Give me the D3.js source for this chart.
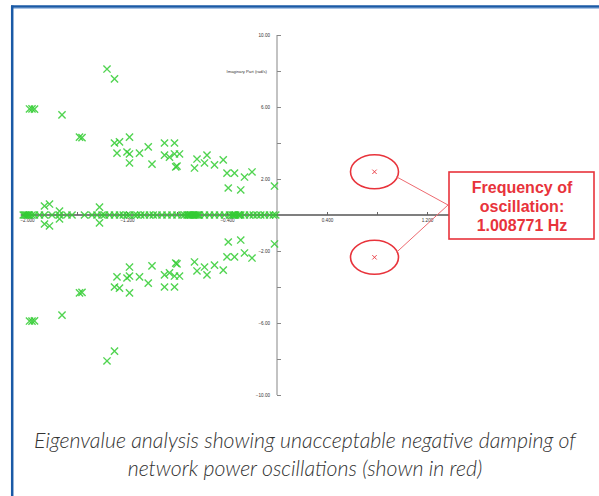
<!DOCTYPE html>
<html>
<head>
<meta charset="utf-8">
<script src="https://cdn.jsdelivr.net/npm/d3@7"></script>
<style>
  body { margin: 0; background: #fff; }
  svg { display: block; }
</style>
</head>
<body>
<svg id="chart" width="599" height="496"></svg>
<script>
// eigenvalues above the real axis (real, imag), the conjugates are drawn too
var upperRe = [-1.98, -1.96, -1.94, -1.72, -1.36, -1.30, -1.58, -1.56, -1.30, -1.26, -1.18, -1.28, -1.20, -1.18, -1.10,
               -1.03, -1.18, -1.00, -0.90, -0.82, -0.90, -0.86, -0.82, -0.78, -0.81, -0.80, -0.66, -0.64, -0.56,
               -0.58, -0.50, -0.43, -0.40, -0.34, -0.26, -0.20, -0.39, -0.29, -0.02, -1.86, -1.82, -1.74, -1.42];
var upperIm = [5.89, 5.90, 5.88, 5.56, 8.11, 7.56, 4.33, 4.30, 4.00, 4.06, 4.33, 3.44, 3.50, 3.39, 3.44,
               3.78, 2.89, 2.83, 4.00, 4.00, 3.33, 3.22, 3.39, 3.39, 2.67, 2.72, 2.61, 3.11, 3.33,
               2.89, 2.78, 3.06, 2.33, 2.33, 2.11, 2.39, 1.50, 1.39, 1.61, 0.50, 0.61, 0.22, 0.44];

// purely real eigenvalues
var realRe = [-2.03, -2.02, -2.01, -2.00, -1.99, -1.98, -1.96, -1.94, -1.90, -1.86, -1.80, -1.74, -1.68, -1.64,
              -1.54, -1.48, -1.44, -1.40, -1.38, -1.34, -1.30, -1.26, -1.23, -1.20, -1.18, -1.14, -1.12,
              -1.09, -1.06, -1.02, -0.99, -0.96, -0.92, -0.88, -0.84, -0.80, -0.76, -0.74, -0.72, -0.71,
              -0.70, -0.69, -0.68, -0.67, -0.66, -0.65, -0.64, -0.63, -0.62, -0.58, -0.54, -0.50, -0.46,
              -0.42, -0.38, -0.36, -0.35, -0.34, -0.33, -0.31, -0.30, -0.29, -0.26, -0.22, -0.19, -0.16,
              -0.13, -0.10, -0.06, -0.03, -0.01];

// unstable pair (shown in red)
var redRe = [0.78, 0.78];
var redIm = [2.40, -2.35];

var xTicks = [-2.0, -1.6, -1.2, -0.8, -0.4, 0.4, 0.8, 1.2];
var xLabelled = [-2.0, -1.2, -0.4, 0.4, 1.2];
var yTicks = [-10, -8, -6, -4, -2, 2, 4, 6, 8, 10];
var yLabelled = [-10, -6, -2, 2, 6, 10];

var yTitle = "Imaginary Part (rad/s)";
var calloutLines = ["Frequency of", "oscillation:", "1.008771 Hz"];
var captionLines = ["Eigenvalue analysis showing unacceptable negative damping of",
                    "network power oscillations (shown in red)"];

var svg = d3.select("#chart");

// frame
svg.append("line").attr("x1", 11).attr("x2", 599).attr("y1", 8.5).attr("y2", 8.5)
   .attr("stroke", "#a9c4e6").attr("stroke-width", 1);
svg.append("line").attr("x1", 11).attr("x2", 599).attr("y1", 6.5).attr("y2", 6.5)
   .attr("stroke", "#1a5aa6").attr("stroke-width", 2.5);
svg.append("line").attr("x1", 12.2).attr("x2", 12.2).attr("y1", 5.5).attr("y2", 496)
   .attr("stroke", "#1a5aa6").attr("stroke-width", 2.5);

var x = d3.scaleLinear().domain([-2.0, 1.2]).range([27, 427]);
var y = d3.scaleLinear().domain([-10, 10]).range([395, 35]);

var g = svg.append("g");

// y axis (light grey)
g.append("line").attr("x1", x(0)).attr("x2", x(0)).attr("y1", y(10)).attr("y2", y(-10))
  .attr("stroke", "#b4b4b4").attr("stroke-width", 1.6);
var yAxis = g.append("g").attr("transform", "translate(" + x(0) + ",0)")
  .call(d3.axisLeft(y).tickValues(yTicks).tickSize(-4).tickPadding(7)
    .tickFormat(function(d) { return yLabelled.indexOf(d) >= 0 ? d3.format(".2f")(d) : ""; }));
yAxis.select(".domain").remove();
yAxis.selectAll("line").attr("stroke", "#888");
yAxis.selectAll("text").attr("font-family", "Arial, Liberation Sans, sans-serif")
  .attr("font-size", 4.6).attr("fill", "#333");

g.append("text").attr("x", x(0) - 10).attr("y", y(8) + 1.5).attr("text-anchor", "end")
  .attr("font-family", "Arial, Liberation Sans, sans-serif").attr("font-size", 4.2)
  .attr("fill", "#333").text(yTitle);

// x axis
g.append("line").attr("x1", x(-2.05)).attr("x2", x(1.4)).attr("y1", y(0)).attr("y2", y(0))
  .attr("stroke", "#555").attr("stroke-width", 1.3);
var xAxis = g.append("g").attr("transform", "translate(0," + y(0) + ")")
  .call(d3.axisBottom(x).tickValues(xTicks).tickSize(-3).tickPadding(4)
    .tickFormat(function(d) { return xLabelled.indexOf(d) >= 0 ? d3.format(".3f")(d) : ""; }));
xAxis.select(".domain").remove();
xAxis.selectAll("line").attr("stroke", "#666");
xAxis.selectAll("text").attr("font-family", "Arial, Liberation Sans, sans-serif")
  .attr("font-size", 4.6).attr("fill", "#333");

// markers
function cross(sel, s) {
  return sel.attr("d", function(d) {
    var px = x(d[0]), py = y(d[1]);
    return "M" + (px - s) + "," + (py - s) + "L" + (px + s) + "," + (py + s) +
           "M" + (px - s) + "," + (py + s) + "L" + (px + s) + "," + (py - s);
  });
}

var pts = [];
upperRe.forEach(function(r, i) {
  pts.push([r, upperIm[i]]);
  pts.push([r, -upperIm[i]]);
});
realRe.forEach(function(r) { pts.push([r, 0]); });

g.append("g").selectAll("path").data(pts).join("path")
  .call(cross, 3.6)
  .attr("stroke", "#33cc33").attr("stroke-width", 1.4).attr("fill", "none").attr("opacity", 0.85);

// red pair + annotation
var redPts = redRe.map(function(r, i) { return [r, redIm[i]]; });
var ann = g.append("g");
redPts.forEach(function(d) {
  ann.append("ellipse").attr("cx", x(d[0])).attr("cy", y(d[1])).attr("rx", 24).attr("ry", 17)
    .attr("fill", "none").attr("stroke", "#e8333b").attr("stroke-width", 1.6);
  ann.append("line").attr("x1", x(d[0]) + 22).attr("y1", y(d[1]) + (d[1] > 0 ? 5 : -5))
    .attr("x2", 448).attr("y2", 205)
    .attr("stroke", "#ee6a70").attr("stroke-width", 1);
});
ann.append("g").selectAll("path").data(redPts).join("path")
  .call(cross, 2.2)
  .attr("stroke", "#e8333b").attr("stroke-width", 0.9).attr("fill", "none");

ann.append("rect").attr("x", 449).attr("y", 172).attr("width", 145).attr("height", 67)
  .attr("fill", "#fff").attr("stroke", "#e8333b").attr("stroke-width", 1.6);
ann.selectAll("text.call").data(calloutLines).join("text").attr("class", "call")
  .attr("x", 522).attr("y", function(d, i) { return 192.5 + i * 19; })
  .attr("text-anchor", "middle")
  .attr("font-family", "Arial, Liberation Sans, sans-serif").attr("font-weight", "bold")
  .attr("font-size", 16).attr("fill", "#e8333b")
  .text(function(d) { return d; });

// caption
svg.selectAll("text.cap").data(captionLines).join("text").attr("class", "cap")
  .attr("x", 305).attr("y", function(d, i) { return 448 + i * 28; })
  .attr("text-anchor", "middle")
  .attr("font-family", "Lato, 'Open Sans', sans-serif").attr("font-style", "italic")
  .attr("font-weight", 300).attr("font-size", 21.3).attr("fill", "#333")
  .text(function(d) { return d; });
</script>
</body>
</html>
